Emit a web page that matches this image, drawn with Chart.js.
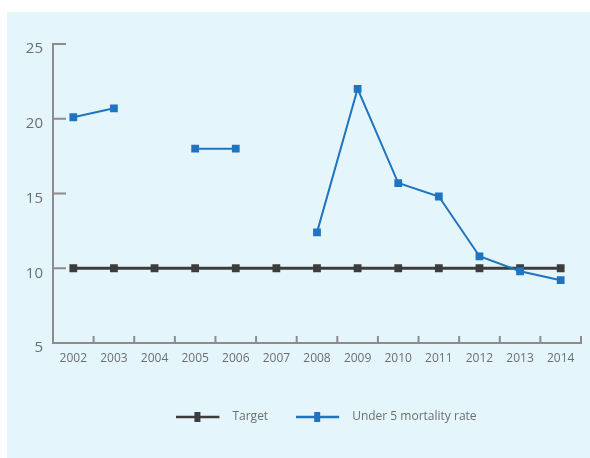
<!DOCTYPE html>
<html>
<head>
<meta charset="utf-8">
<script src="https://cdn.jsdelivr.net/npm/chart.js@4.4.1/dist/chart.umd.min.js"></script>
<style>
  html, body { margin: 0; padding: 0; background: #fff; }
  #panel { position: absolute; left: 7px; top: 12px; width: 583px; height: 446px; background: #e4f5fc; }
  #wrap { position: absolute; left: 0; top: 0; width: 590px; height: 458px; }
</style>
</head>
<body>
<div id="panel"></div>
<div id="wrap"><canvas id="mortalityChart"></canvas></div>
<script>
const years = ['2002','2003','2004','2005','2006','2007','2008','2009','2010','2011','2012','2013','2014'];
const targetValues = [10,10,10,10,10,10,10,10,10,10,10,10,10];
const under5Values = [20.1,20.7,null,18.0,18.0,null,12.4,22.0,15.7,14.8,10.8,9.8,9.2];
const yTicks = [5,10,15,20,25];

const axisGrey = '#8c8c8c';
const textGrey = '#6d6e71';
const blue = '#1f74bf';
const dark = '#3c3c3c';

function legendIcon(color){
    const c = document.createElement('canvas');
    c.width = 50;
    c.height = 12;
    const g = c.getContext('2d');
    g.strokeStyle = color;
    g.lineWidth = 2.5;
    g.beginPath();
    g.moveTo(0, 6);
    g.lineTo(43, 6);
    g.stroke();
    g.fillStyle = color;
    g.fillRect(18, 1, 6, 10);
    return c;
}

// short inward tick marks, like the original
const innerTicks = {
    id: 'innerTicks',
    afterDraw(chart){
        const ctx = chart.ctx;
        const x = chart.scales.x;
        const y = chart.scales.y;
        ctx.save();
        ctx.strokeStyle = axisGrey;
        ctx.lineWidth = 2;
        ctx.beginPath();
        yTicks.forEach(v => {
            const py = y.getPixelForValue(v);
            ctx.moveTo(x.left, py);
            ctx.lineTo(x.left + 13, py);
        });
        for(let i = 0; i < years.length; i++){
            const px = i < years.length - 1
                ? (x.getPixelForValue(i) + x.getPixelForValue(i + 1)) / 2
                : x.right;
            ctx.moveTo(px, y.bottom);
            ctx.lineTo(px, y.bottom - 7);
        }
        ctx.stroke();
        ctx.restore();
    },
    afterLayout(chart){
        // legend in the original sits a bit right of centre and higher
        chart.legend.left += 72;
        chart.legend.top -= 5;
    }
};

const ctx = document.getElementById('mortalityChart');

new Chart(ctx, {
    type: 'line',
    data: {
        labels: years,
        datasets: [{
            label: 'Under 5 mortality rate',
            data: under5Values,
            borderColor: blue,
            backgroundColor: blue,
            borderWidth: 2,
            pointStyle: 'rect',
            pointRadius: 5.5,
            pointBorderWidth: 0,
            spanGaps: false,
            tension: 0
        }, {
            label: 'Target',
            data: targetValues,
            borderColor: dark,
            backgroundColor: dark,
            borderWidth: 3,
            pointStyle: 'rect',
            pointRadius: 5.5,
            pointBorderWidth: 0,
            tension: 0
        }]
    },
    options: {
        responsive: true,
        maintainAspectRatio: false,
        animation: false,
        layout: {
            padding: { left: 0, right: 9, top: 44, bottom: 20 }
        },
        scales: {
            x: {
                offset: true,
                grid: { display: true, drawOnChartArea: false, drawTicks: false },
                border: { color: axisGrey, width: 2 },
                ticks: {
                    color: textGrey,
                    padding: 8,
                    maxRotation: 0,
                    autoSkip: false,
                    font: { family: 'Open Sans', size: 12 }
                },
                afterFit: s => { s.height = 45; }
            },
            y: {
                min: 5,
                max: 25,
                grid: { display: true, drawOnChartArea: false, drawTicks: false },
                border: { color: axisGrey, width: 2 },
                ticks: {
                    stepSize: 5,
                    color: textGrey,
                    padding: 10,
                    labelOffset: 5,
                    font: { family: 'Open Sans', size: 15 }
                },
                afterFit: s => { s.width = 53; }
            }
        },
        plugins: {
            tooltip: { enabled: false },
            legend: {
                position: 'bottom',
                reverse: true,
                labels: {
                    usePointStyle: true,
                    pointStyleWidth: 50,
                    padding: 28,
                    color: textGrey,
                    font: { family: 'Open Sans', size: 12 },
                    generateLabels(chart){
                        const items = Chart.defaults.plugins.legend.labels.generateLabels(chart);
                        items.forEach(it => {
                            it.pointStyle = legendIcon(it.datasetIndex === 0 ? blue : dark);
                        });
                        return items;
                    }
                }
            }
        }
    },
    plugins: [innerTicks]
});
</script>
</body>
</html>
